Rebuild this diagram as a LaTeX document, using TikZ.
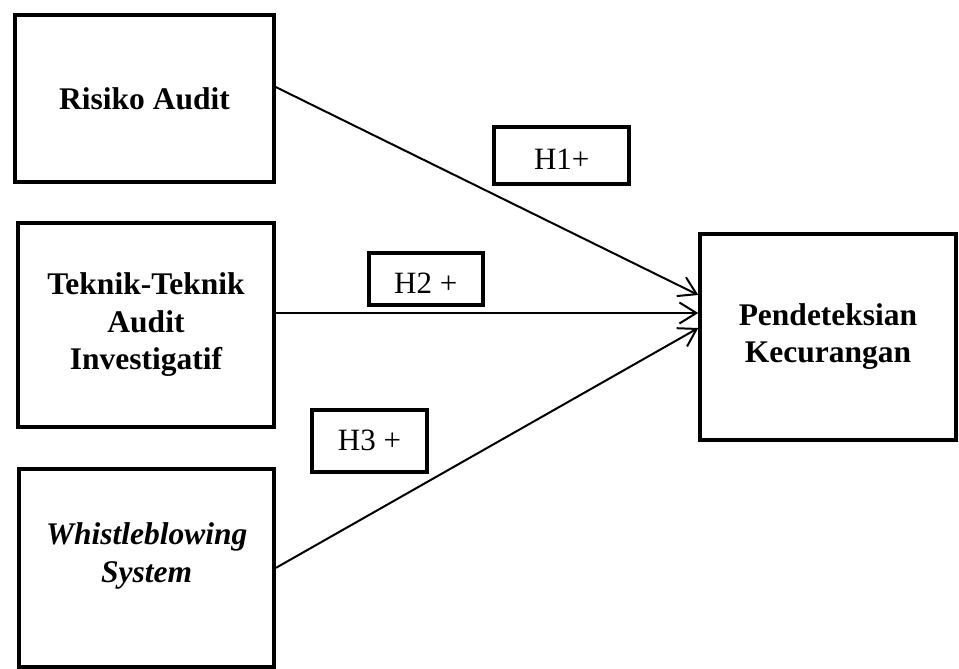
\documentclass[tikz,border=0pt]{standalone}
\usepackage{fontspec}
\setmainfont{Liberation Serif}
\usetikzlibrary{arrows.meta}
\begin{document}
\begin{tikzpicture}[x=1pt,y=-1pt,
  bigbox/.style={draw, line width=4pt, inner sep=0pt, align=center, font=\fontsize{31.5}{37.5}\selectfont\bfseries},
  hbox/.style={draw, line width=4pt, inner sep=0pt, font=\fontsize{31}{36}\selectfont},
  conn/.style={line width=2pt, -{Straight Barb[length=17pt,width=21pt]}}]
\useasboundingbox (0,0) rectangle (959,669);
\node[bigbox, minimum width=258.4pt, minimum height=166.7pt] (r) at (144.5,98.7) {Risiko Audit};
\node[bigbox, minimum width=256pt, minimum height=204.6pt] (t) at (146,325) {Teknik-Teknik\\Audit\\Investigatif};
\node[bigbox, minimum width=254.7pt, minimum height=198.3pt,
  label={[name=wt, font=\fontsize{31.5}{37.5}\selectfont\bfseries\itshape, align=center, yshift=12pt]center:{Whistleblowing\\System}}] (w) at (146.7,567.8) {};
\node[bigbox, minimum width=255.4pt, minimum height=206pt] (p) at (828,336.7) {Pendeteksian\\Kecurangan};
\node[hbox, minimum width=134.7pt, minimum height=56.7pt, text height=29pt, text depth=0pt] (h1) at (561.7,155.3) {H1+};
\node[hbox, minimum width=114.3pt, minimum height=52.6pt, text height=29pt, text depth=0pt] (h2) at (425.8,279) {H2 +};
\node[hbox, minimum width=115pt, minimum height=62.3pt] (h3) at (369.5,440.8) {H3 +};
\draw[conn] ([yshift=11.7pt]r.east) -- ([yshift=41.7pt]p.west);
\draw[conn] ([yshift=12pt]t.east) -- ([yshift=23.7pt]p.west);
\draw[conn] (w.east) -- ([yshift=8.7pt]p.west);
\end{tikzpicture}
\end{document}
